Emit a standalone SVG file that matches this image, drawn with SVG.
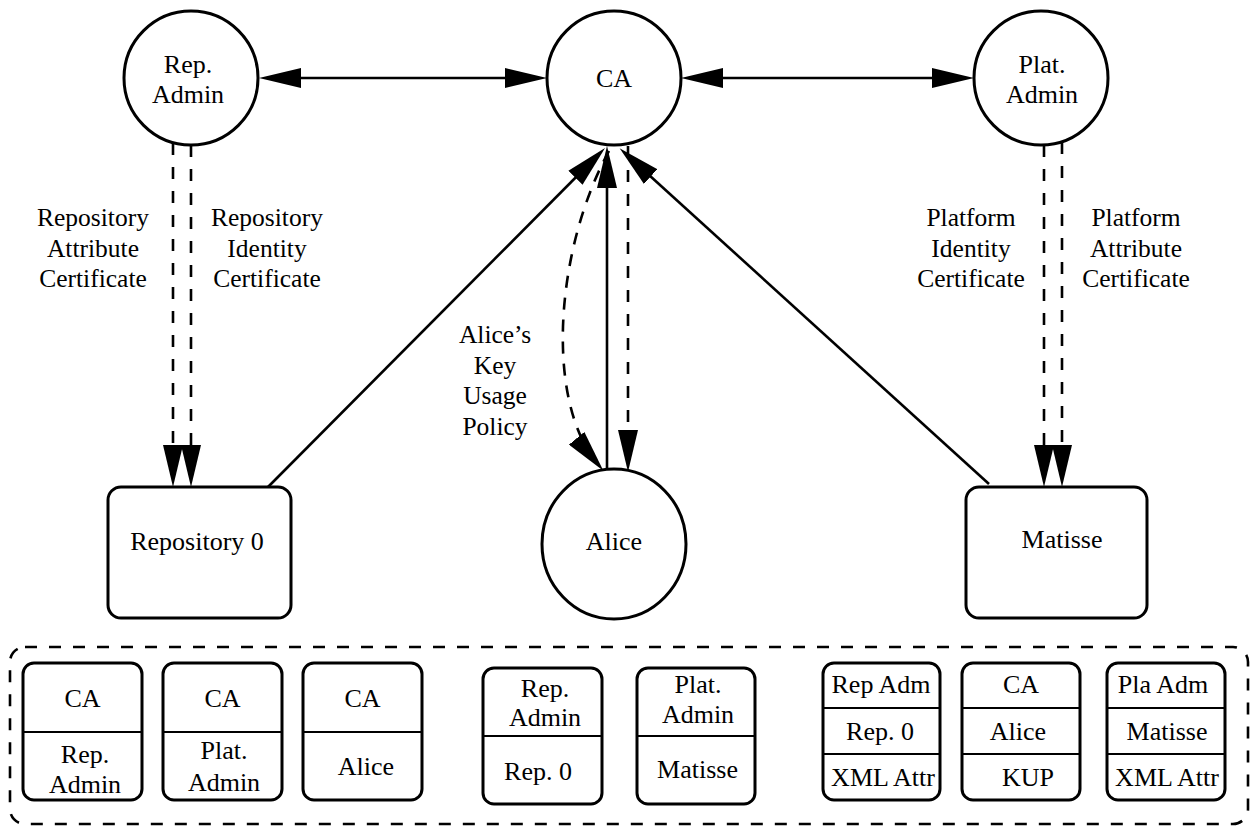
<svg xmlns="http://www.w3.org/2000/svg" width="1252" height="826" viewBox="0 0 1252 826" font-family="'Liberation Serif', 'Times New Roman', Times, 'DejaVu Serif', serif">
<style>
.node{fill:#fff;stroke:#000;stroke-width:3}
text{font-family:'Liberation Serif','Times New Roman',Times,'DejaVu Serif',serif}
.t{font-size:26px;fill:#000;text-anchor:middle}
.lbl{font-size:25.5px;fill:#000;text-anchor:middle}
.c{fill:none;stroke:#000;stroke-width:2.6}
.d{stroke-dasharray:12 12}
.sep{stroke:#000;stroke-width:2}
</style>
<defs>
<marker id="ah" viewBox="0 0 42 20" refX="32" refY="10" markerWidth="42" markerHeight="20" markerUnits="userSpaceOnUse" orient="auto-start-reverse">
<path d="M0,0 L42,10 L0,20 z" fill="#000"/>
</marker>
</defs>
<rect x="0" y="0" width="1252" height="826" fill="#fff"/>

<g id="connectors">
<line class="c" x1="269" y1="78" x2="537" y2="78" marker-start="url(#ah)" marker-end="url(#ah)"/>
<line class="c" x1="691" y1="78" x2="964" y2="78" marker-start="url(#ah)" marker-end="url(#ah)"/>
<line class="c d" x1="173" y1="143" x2="173" y2="477" marker-end="url(#ah)"/>
<line class="c d" x1="191" y1="145" x2="191" y2="477" marker-end="url(#ah)"/>
<line class="c d" x1="1044" y1="145" x2="1044" y2="477" marker-end="url(#ah)"/>
<line class="c d" x1="1062" y1="142" x2="1062" y2="477" marker-end="url(#ah)"/>
<line class="c" x1="268" y1="487" x2="598" y2="155" marker-end="url(#ah)"/>
<line class="c" x1="989" y1="484" x2="627" y2="155" marker-end="url(#ah)"/>
<line class="c" x1="607" y1="470" x2="607" y2="156" marker-end="url(#ah)"/>
<line class="c d" x1="628" y1="146" x2="628" y2="462" marker-end="url(#ah)"/>
<path class="c" style="stroke-dasharray:12 10" d="M609 151 C555 250 545 400 597 463" marker-end="url(#ah)"/>
<text class="lbl" x="93" y="226">Repository</text>
<text class="lbl" x="93" y="256.5">Attribute</text>
<text class="lbl" x="93" y="287">Certificate</text>
<text class="lbl" x="267" y="226">Repository</text>
<text class="lbl" x="267" y="256.5">Identity</text>
<text class="lbl" x="267" y="287">Certificate</text>
<text class="lbl" x="971" y="226">Platform</text>
<text class="lbl" x="971" y="256.5">Identity</text>
<text class="lbl" x="971" y="287">Certificate</text>
<text class="lbl" x="1136" y="226">Platform</text>
<text class="lbl" x="1136" y="256.5">Attribute</text>
<text class="lbl" x="1136" y="287">Certificate</text>
<text class="lbl" x="495" y="343">Alice’s</text>
<text class="lbl" x="495" y="373.5">Key</text>
<text class="lbl" x="495" y="404">Usage</text>
<text class="lbl" x="495" y="434.5">Policy</text>
</g>

<g id="rep-admin">
<circle class="node" cx="191" cy="78" r="67"/>
<text class="t" x="188" y="73">Rep.</text>
<text class="t" x="188" y="103">Admin</text>
</g>
<g id="ca">
<circle class="node" cx="614" cy="78" r="67"/>
<text class="t" x="614" y="87">CA</text>
</g>
<g id="plat-admin">
<circle class="node" cx="1041" cy="78" r="67"/>
<text class="t" x="1042" y="73">Plat.</text>
<text class="t" x="1042" y="103">Admin</text>
</g>
<g id="repository0">
<rect class="node" x="108" y="487" width="183" height="131" rx="13"/>
<text class="t" x="197" y="550">Repository 0</text>
</g>
<g id="alice">
<ellipse class="node" cx="614" cy="544" rx="72" ry="75"/>
<text class="t" x="614" y="550">Alice</text>
</g>
<g id="matisse">
<rect class="node" x="966" y="487" width="181" height="131" rx="13"/>
<text class="t" x="1062" y="548">Matisse</text>
</g>

<g id="store">
<rect x="10" y="647" width="1238" height="177" rx="15" fill="none" stroke="#000" stroke-width="2.6" stroke-dasharray="12 12"/>
</g>
<g id="cert1">
<rect class="node" x="23" y="663" width="119" height="137" rx="11"/>
<line class="sep" x1="23" y1="732" x2="142" y2="732"/>
<text class="t" x="82.5" y="707">CA</text>
<text class="t" x="85" y="763">Rep.</text>
<text class="t" x="85" y="793">Admin</text>
</g>
<g id="cert2">
<rect class="node" x="163" y="663" width="119" height="137" rx="11"/>
<line class="sep" x1="163" y1="732" x2="282" y2="732"/>
<text class="t" x="222.5" y="707">CA</text>
<text class="t" x="224" y="759">Plat.</text>
<text class="t" x="224" y="791">Admin</text>
</g>
<g id="cert3">
<rect class="node" x="303" y="663" width="119" height="137" rx="11"/>
<line class="sep" x1="303" y1="732" x2="422" y2="732"/>
<text class="t" x="362.5" y="707">CA</text>
<text class="t" x="366" y="775">Alice</text>
</g>
<g id="cert4">
<rect class="node" x="483" y="668" width="119" height="136" rx="11"/>
<line class="sep" x1="483" y1="736" x2="602" y2="736"/>
<text class="t" x="545" y="697">Rep.</text>
<text class="t" x="545" y="726">Admin</text>
<text class="t" x="538" y="780">Rep. 0</text>
</g>
<g id="cert5">
<rect class="node" x="637" y="668" width="118" height="136" rx="11"/>
<line class="sep" x1="637" y1="736" x2="755" y2="736"/>
<text class="t" x="698" y="693">Plat.</text>
<text class="t" x="698" y="723">Admin</text>
<text class="t" x="697.5" y="778">Matisse</text>
</g>
<g id="cert6">
<rect class="node" x="823" y="663" width="117" height="137" rx="11"/>
<line class="sep" x1="823" y1="708" x2="940" y2="708"/>
<line class="sep" x1="823" y1="754" x2="940" y2="754"/>
<text class="t" x="881" y="693">Rep Adm</text>
<text class="t" x="880" y="740">Rep. 0</text>
<text class="t" x="883" y="786">XML Attr</text>
</g>
<g id="cert7">
<rect class="node" x="962" y="663" width="118" height="137" rx="11"/>
<line class="sep" x1="962" y1="708" x2="1080" y2="708"/>
<line class="sep" x1="962" y1="754" x2="1080" y2="754"/>
<text class="t" x="1021" y="693">CA</text>
<text class="t" x="1018" y="740">Alice</text>
<text class="t" x="1028" y="786">KUP</text>
</g>
<g id="cert8">
<rect class="node" x="1107" y="663" width="118" height="137" rx="11"/>
<line class="sep" x1="1107" y1="708" x2="1225" y2="708"/>
<line class="sep" x1="1107" y1="754" x2="1225" y2="754"/>
<text class="t" x="1163" y="693">Pla Adm</text>
<text class="t" x="1167" y="740">Matisse</text>
<text class="t" x="1167" y="786">XML Attr</text>
</g>
</svg>
